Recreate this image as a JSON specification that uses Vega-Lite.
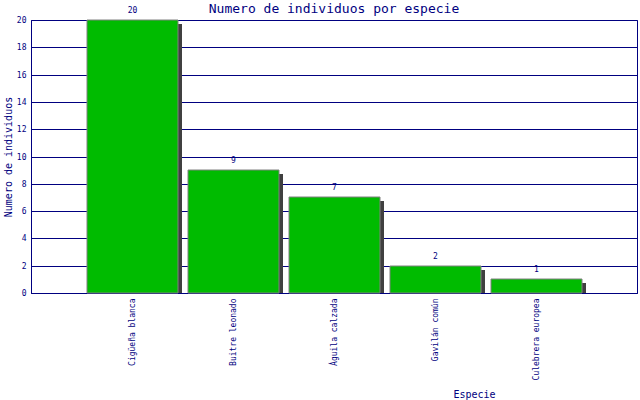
{
  "$schema": "https://vega.github.io/schema/vega-lite/v6.json",
  "width": 606,
  "height": 273,
  "autosize": "none",
  "padding": {"left": 31, "top": 20, "right": 3, "bottom": 107},
  "background": "white",
  "title": {
    "text": "Numero de individuos por especie",
    "font": "DejaVu Sans Mono",
    "fontSize": 13,
    "fontWeight": "normal",
    "color": "#000080",
    "anchor": "middle",
    "baseline": "bottom",
    "frame": "group",
    "offset": -22
  },
  "config": {
    "view": {"stroke": "#000080", "strokeWidth": 1},
    "axis": {
      "labelFont": "DejaVu Sans Mono",
      "labelFontSize": 8,
      "labelColor": "#000080",
      "titleFont": "DejaVu Sans Mono",
      "titleFontSize": 10,
      "titleFontWeight": "normal",
      "titleColor": "#000080",
      "domainColor": "#000080",
      "domainOpacity": 1,
      "ticks": false
    }
  },
  "data": {
    "values": [
      {"especie": "Cigüeña blanca", "n": 20},
      {"especie": "Buitre leonado", "n": 9},
      {"especie": "Águila calzada", "n": 7},
      {"especie": "Gavilán común", "n": 2},
      {"especie": "Culebrera europea", "n": 1}
    ]
  },
  "encoding": {
    "x": {
      "field": "especie",
      "type": "nominal",
      "sort": null,
      "scale": {"paddingInner": 0.1, "paddingOuter": 0.55, "round": true},
      "axis": {
        "title": "Especie",
        "labelAngle": -90,
        "labelPadding": 5,
        "titleX": 443,
        "titleY": 101,
        "titleAlign": "center",
        "titleBaseline": "middle",
        "grid": false
      }
    },
    "y": {
      "field": "n",
      "type": "quantitative",
      "scale": {"domain": [0, 20], "nice": false, "round": true},
      "axis": {
        "title": "Numero de individuos",
        "values": [0, 2, 4, 6, 8, 10, 12, 14, 16, 18, 20],
        "labelPadding": 5,
        "titlePadding": 3,
        "grid": true,
        "gridColor": "#000080",
        "gridOpacity": 1,
        "gridWidth": 1
      }
    }
  },
  "layer": [
    {
      "mark": {"type": "bar", "color": "#404040", "xOffset": 4, "yOffset": 4, "y2Offset": 0, "clip": true}
    },
    {
      "mark": {"type": "bar", "color": "#00bb00", "stroke": "#808080", "strokeWidth": 1}
    },
    {
      "mark": {"type": "text", "font": "DejaVu Sans Mono", "fontSize": 8, "color": "#000080", "baseline": "bottom", "dy": -5},
      "encoding": {"text": {"field": "n", "type": "quantitative"}}
    }
  ]
}
